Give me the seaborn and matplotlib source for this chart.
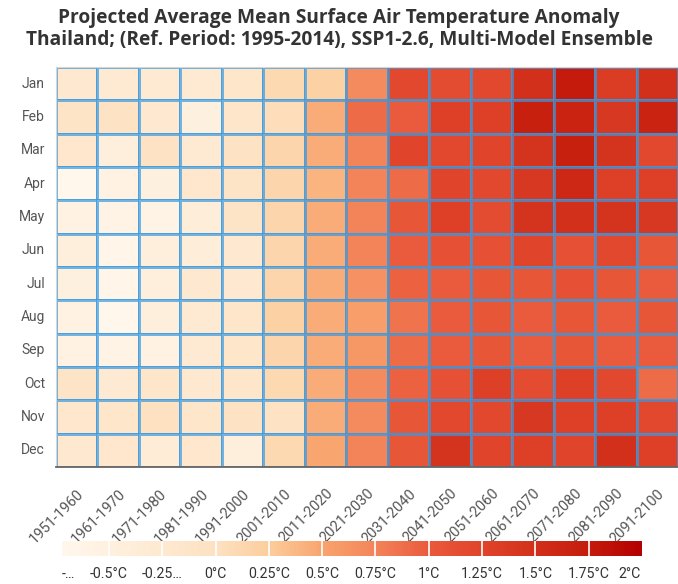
import numpy as np
import pandas as pd
import seaborn as sns
import matplotlib.pyplot as plt
from matplotlib.colors import LinearSegmentedColormap

months = ["Jan", "Feb", "Mar", "Apr", "May", "Jun",
          "Jul", "Aug", "Sep", "Oct", "Nov", "Dec"]
decades = ["1951-1960", "1961-1970", "1971-1980", "1981-1990", "1991-2000",
           "2001-2010", "2011-2020", "2021-2030", "2031-2040", "2041-2050",
           "2051-2060", "2061-2070", "2071-2080", "2081-2090", "2091-2100"]

# anomaly in degC (rows = months, cols = decades)
jan = [-0.25, -0.30, -0.30, -0.30, -0.15, 0.10, 0.20, 0.70, 1.20, 1.15, 1.20, 1.50, 1.75, 1.35, 1.50]
feb = [-0.10, -0.05, -0.25, -0.50, -0.15, 0.05, 0.45, 0.90, 1.00, 1.30, 1.30, 1.70, 1.65, 1.40, 1.65]
mar = [-0.20, -0.45, -0.05, -0.30, -0.05, 0.15, 0.45, 0.75, 1.25, 1.20, 1.25, 1.45, 1.70, 1.45, 1.20]
apr = [-0.70, -0.55, -0.50, -0.20, -0.10, 0.15, 0.40, 0.75, 0.90, 1.25, 1.20, 1.40, 1.60, 1.30, 1.30]
may = [-0.55, -0.60, -0.60, -0.40, -0.10, 0.15, 0.45, 0.75, 1.05, 1.30, 1.15, 1.45, 1.50, 1.45, 1.40]
jun = [-0.45, -0.65, -0.45, -0.40, -0.25, 0.15, 0.45, 0.75, 1.00, 1.10, 1.10, 1.25, 1.10, 1.20, 1.05]
jul = [-0.50, -0.65, -0.45, -0.25, -0.25, 0.15, 0.45, 0.65, 0.95, 1.00, 1.05, 1.05, 1.10, 1.05, 1.00]
aug = [-0.55, -0.75, -0.45, -0.30, -0.15, 0.20, 0.45, 0.55, 0.85, 1.00, 1.05, 1.00, 1.05, 1.00, 1.05]
sep = [-0.55, -0.60, -0.55, -0.30, -0.15, 0.15, 0.45, 0.60, 0.90, 1.00, 1.05, 1.00, 1.05, 1.00, 1.00]
oct_ = [-0.10, -0.30, -0.15, -0.25, -0.15, 0.10, 0.45, 0.70, 0.95, 1.10, 1.30, 1.15, 1.30, 1.20, 0.90]
nov = [-0.20, -0.15, 0.00, -0.15, -0.05, -0.05, 0.45, 0.70, 1.05, 1.20, 1.20, 1.40, 1.30, 1.30, 1.20]
dec = [-0.25, -0.20, -0.35, -0.20, -0.45, 0.10, 0.50, 0.75, 1.05, 1.45, 1.25, 1.30, 1.25, 1.50, 1.30]

cbar_ticks = [-0.5, -0.25, 0, 0.25, 0.5, 0.75, 1, 1.25, 1.5, 1.75]
cbar_labels = ["-…", "-0.5°C", "-0.25…", "0°C", "0.25°C", "0.5°C", "0.75°C",
               "1°C", "1.25°C", "1.5°C", "1.75°C", "2°C"]

vmin, vmax = -0.72, 2.0
df = pd.DataFrame([jan, feb, mar, apr, may, jun, jul, aug, sep, oct_, nov, dec],
                  index=months, columns=decades)

stops = [(-0.72, "#fff7ec"), (0.0, "#fde1c1"), (0.25, "#fccd9c"), (0.5, "#f8a46e"),
         (0.75, "#f3845a"), (1.0, "#ea5a3c"), (1.25, "#e0442a"), (1.5, "#d2301b"),
         (1.75, "#c51c0c"), (2.0, "#b30000")]
cmap = LinearSegmentedColormap.from_list(
    "anom", [((v - vmin) / (vmax - vmin), c) for v, c in stops])

plt.rcParams["font.family"] = ["Roboto", "DejaVu Sans"]
fig = plt.figure(figsize=(6.78, 5.84), dpi=100)
ax = fig.add_axes([56 / 678, 1 - 467 / 584, 622 / 678, 400 / 584])
sns.heatmap(df, ax=ax, cmap=cmap, vmin=vmin, vmax=vmax, cbar=False,
            linewidths=1.0, linecolor=(0.22, 0.6, 0.88, 0.7))

ax.tick_params(length=0, colors="#555555")
ax.set_yticklabels(months, rotation=0, fontsize=10, color="#555555")
ax.tick_params(axis="y", pad=8)
ax.set_xticklabels(decades, rotation=45, ha="right", rotation_mode="anchor",
                   fontsize=10.5, color="#555555")
ax.tick_params(axis="x", pad=14)
ax.set_xlabel("")
ax.set_ylabel("")
for side in ["left", "top"]:
    ax.spines[side].set_visible(True)
    ax.spines[side].set_color("#d6d6d6")
ax.spines["bottom"].set_visible(True)
ax.spines["bottom"].set_color("#666666")
ax.spines["bottom"].set_linewidth(1.3)

title_font = ["Open Sans", "DejaVu Sans"]
fig.text(0.5, 1 - 18 / 584, "Projected Average Mean Surface Air Temperature Anomaly",
         ha="center", va="center", fontsize=13.8, fontweight="bold",
         family=title_font, color="#333333")
fig.text(0.5, 1 - 40 / 584, "Thailand; (Ref. Period: 1995-2014), SSP1-2.6, Multi-Model Ensemble",
         ha="center", va="center", fontsize=13.8, fontweight="bold",
         family=title_font, color="#333333")

cax = fig.add_axes([62 / 678, 1 - 556 / 584, 580 / 678, 15 / 584])
cb = fig.colorbar(ax.collections[0], cax=cax, orientation="horizontal")
cb.outline.set_visible(False)
for t in cbar_ticks:
    cax.axvline(t, color="white", lw=1.2)
label_pos = [-0.69] + cbar_ticks + [1.94]
cb.set_ticks(label_pos)
cb.set_ticklabels(cbar_labels)
cax.tick_params(length=0, pad=8, labelsize=10.2, colors="#333333")

fig.savefig("out.png", dpi=100)
